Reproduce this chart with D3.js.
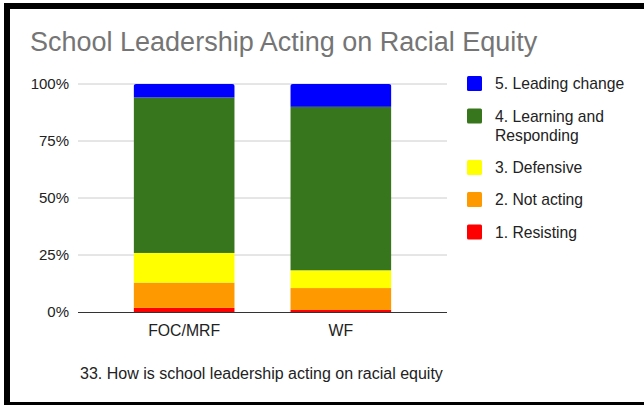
<!DOCTYPE html>
<html><head><meta charset="utf-8">
<script src="https://cdn.jsdelivr.net/npm/d3@7"></script>
<style>body{margin:0;background:#fff}svg{display:block;font-family:"Liberation Sans",Arial,sans-serif}</style>
</head><body>
<svg id="c" width="644" height="405"></svg>
<script>
const categories = ["FOC/MRF", "WF"];
const seriesNames = ["1. Resisting", "2. Not acting", "3. Defensive", "4. Learning and Responding", "5. Leading change"];
const seriesColors = ["#ff0000", "#ff9900", "#ffff00", "#38761d", "#0000ff"];
const resisting = [1.8, 0.9];
const notActing = [11.1, 9.6];
const defensive = [13.0, 7.8];
const learning = [68.2, 71.7];
const leading = [5.9, 10.0];
const yTicks = [0, 25, 50, 75, 100];
const title = "School Leadership Acting on Racial Equity";
const xTitle = "33. How is school leadership acting on racial equity";

const series = [resisting, notActing, defensive, learning, leading];
const svg = d3.select("#c");

// frame
svg.append("rect").attr("x",4).attr("y",3).attr("width",640).attr("height",6).attr("fill","#000");
svg.append("rect").attr("x",4).attr("y",3).attr("width",6).attr("height",402).attr("fill","#000");
svg.append("rect").attr("x",4).attr("y",402).attr("width",640).attr("height",3).attr("fill","#000");

const x = d3.scaleBand().domain(categories).range([78,447]).paddingInner(0.355).paddingOuter(0.355);
const y = d3.scaleLinear().domain([0,100]).range([312,84]);

// grid
svg.append("g").selectAll("line").data(yTicks.filter(d=>d>0)).join("line")
  .attr("x1",78).attr("x2",447).attr("y1",d=>y(d)).attr("y2",d=>y(d))
  .attr("stroke","#cccccc").attr("stroke-width",1);

// y labels
svg.append("g").selectAll("text").data(yTicks).join("text")
  .attr("x",69).attr("y",d=>y(d)).attr("dy","0.36em").attr("text-anchor","end")
  .attr("font-size",15).attr("fill","#222").text(d=>d+"%");

// stacked bars
const rows = categories.map((c,i)=>{const o={cat:c}; seriesNames.forEach((s,j)=>o[s]=series[j][i]); return o;});
const stack = d3.stack().keys(seriesNames)(rows);
const defs = svg.append("defs");
categories.forEach((c,i)=>{
  defs.append("clipPath").attr("id","clip"+i).append("rect")
    .attr("x",x(c)).attr("y",y(100)).attr("width",x.bandwidth()).attr("height",y(0)-y(100)+4)
    .attr("rx",2.5);
});
stack.forEach((layer,j)=>{
  svg.append("g").selectAll("rect").data(layer).join("rect")
    .attr("clip-path",(d,i)=>`url(#clip${i})`)
    .attr("x",d=>x(d.data.cat)).attr("width",x.bandwidth())
    .attr("y",d=>y(d[1])).attr("height",d=>y(d[0])-y(d[1]))
    .attr("fill",seriesColors[j]);
});

// baseline
svg.append("line").attr("x1",78).attr("x2",447).attr("y1",y(0)+0.5).attr("y2",y(0)+0.5)
  .attr("stroke","#333").attr("stroke-width",1);

// x labels
svg.append("g").selectAll("text").data(categories).join("text")
  .attr("x",d=>x(d)+x.bandwidth()/2).attr("y",336).attr("text-anchor","middle")
  .attr("font-size",15.8).attr("fill","#222").text(d=>d);

// title
svg.append("text").attr("x",30).attr("y",51).attr("font-size",27).attr("fill","#757575").text(title);
// x title
svg.append("text").attr("x",80).attr("y",379).attr("font-size",16).attr("fill","#222").text(xTitle);

// legend (top to bottom: reverse)
const legendItems = seriesNames.map((s,j)=>({name:s,color:seriesColors[j]})).reverse();
const legendY = [83.5, 116, 167.5, 199.5, 232];
const lg = svg.append("g");
legendItems.forEach((it,k)=>{
  const cy = legendY[k];
  lg.append("rect").attr("x",467).attr("y",cy-7.5).attr("width",15).attr("height",15).attr("rx",1.5).attr("fill",it.color);
  const t = lg.append("text").attr("x",495).attr("y",cy).attr("dy","0.36em").attr("font-size",15.7).attr("fill","#222");
  if (it.name === "4. Learning and Responding") {
    t.append("tspan").attr("x",495).text("4. Learning and");
    t.append("tspan").attr("x",495).attr("dy",19).text("Responding");
  } else t.text(it.name);
});
</script>
</body></html>
